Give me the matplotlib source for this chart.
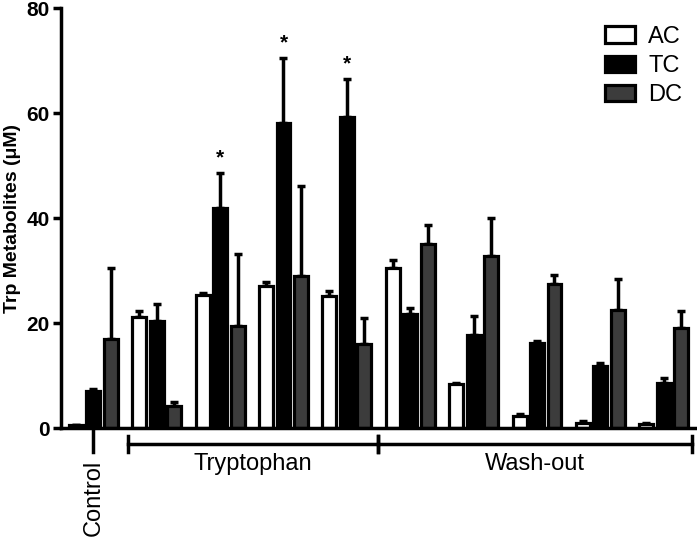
import numpy as np
from matplotlib import pyplot as plt

plt.rcParams['font.family'] = ['Liberation Sans', 'DejaVu Sans']

# values (mean, upper error)
groups = ['Control', 'Trp 1', 'Trp 2', 'Trp 3', 'Trp 4',
          'Wash 1', 'Wash 2', 'Wash 3', 'Wash 4', 'Wash 5']
ac_mean = [0.5, 21.2, 25.3, 27.0, 25.1, 30.4, 8.4, 2.3, 1.0, 0.8]
ac_err = [0.1, 1.0, 0.5, 0.9, 1.1, 1.6, 0.2, 0.3, 0.3, 0.2]
tc_mean = [7.0, 20.4, 42.0, 58.2, 59.3, 21.8, 17.7, 16.2, 11.8, 8.5]
tc_err = [0.4, 3.3, 6.6, 12.3, 7.2, 1.0, 3.6, 0.3, 0.5, 1.1]
dc_mean = [16.9, 4.1, 19.5, 29.0, 16.0, 35.0, 32.8, 27.4, 22.5, 19.0]
dc_err = [13.6, 0.9, 13.7, 17.2, 4.9, 3.6, 7.2, 1.7, 5.8, 3.3]
signif = [False, False, True, True, True, False, False, False, False, False]

series = [('AC', ac_mean, ac_err, 'white'),
          ('TC', tc_mean, tc_err, 'black'),
          ('DC', dc_mean, dc_err, '#3c3c3c')]

fig = plt.figure(figsize=(6.97, 5.42), dpi=100)
ax = fig.add_axes([0.0875, 0.2103, 0.9095, 0.7747])

x = np.arange(len(groups))
w = 0.22
step = 0.275
for i, (name, m, e, col) in enumerate(series):
    xs = x + (i - 1) * step
    ax.errorbar(xs, m, yerr=[np.zeros(len(m)), e], fmt='none', ecolor='black',
                elinewidth=2.5, capsize=3, capthick=2.5, zorder=1)
    ax.bar(xs, m, width=w, color=col, edgecolor='black', linewidth=2.3,
           label=name, zorder=2)

for xi, s, m, e in zip(x, signif, tc_mean, tc_err):
    if s:
        ax.text(xi, m + e + 1, '*', ha='center', va='bottom',
                fontsize=15, fontweight='bold')

ax.set_xlim(-0.51, 9.49)
ax.set_ylim(0, 80)
ax.set_yticks([0, 20, 40, 60, 80])
ax.set_xticks([])
for lab in ax.get_yticklabels():
    lab.set_fontweight('bold')
ax.tick_params(axis='y', labelsize=15, width=2.5, length=6, pad=2)
ax.set_ylabel('Trp Metabolites (\u03bcM)', fontsize=14, fontweight='bold',
              labelpad=4)
for side in ['top', 'right']:
    ax.spines[side].set_visible(False)
for side in ['left', 'bottom']:
    ax.spines[side].set_linewidth(2.5)

# group annotations below the axis
tr = ax.get_xaxis_transform()
ax.plot([0, 0], [0, -0.057], color='black', lw=2.5, transform=tr, clip_on=False)
ax.text(0, -0.075, 'Control', rotation=90, ha='center', va='top',
        fontsize=17, transform=tr)
by = -0.038
for x0, x1, name in [(0.54, 4.49, 'Tryptophan'), (4.49, 9.45, 'Wash-out')]:
    ax.plot([x0, x1], [by, by], color='black', lw=2.5, transform=tr, clip_on=False)
    for xe in (x0, x1):
        ax.plot([xe, xe], [by - 0.019, by + 0.019], color='black', lw=2.5,
                transform=tr, clip_on=False)
    ax.text((x0 + x1) / 2, -0.06, name, ha='center', va='top',
            fontsize=17, transform=tr)

leg = ax.legend(loc='upper right', frameon=False, fontsize=17,
                handlelength=1.3, handleheight=0.7, handletextpad=0.55,
                labelspacing=0.3, borderaxespad=0.0,
                bbox_to_anchor=(0.995, 0.98))

fig.savefig('out.png', dpi=100)
